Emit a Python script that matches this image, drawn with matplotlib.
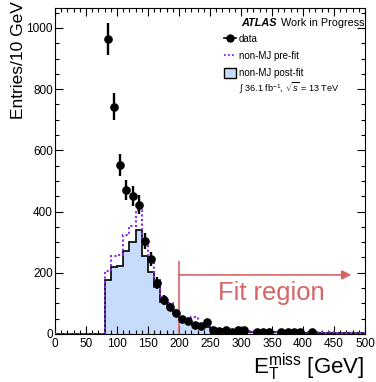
import numpy as np
import matplotlib
matplotlib.use("Agg")
import matplotlib.pyplot as plt
from matplotlib.lines import Line2D
from matplotlib.patches import Patch
from matplotlib.ticker import MultipleLocator

plt.rcParams["font.family"] = ["Liberation Sans", "DejaVu Sans"]
plt.rcParams["mathtext.fontset"] = "custom"
plt.rcParams["mathtext.rm"] = "Liberation Sans"
plt.rcParams["mathtext.it"] = "Liberation Sans:italic"

# ---- data ----
bin_edges = np.arange(0, 510, 10)

# non-MJ post-fit, one value per 10 GeV bin from 0 to 500
post_fit = [0, 0, 0, 0, 0, 0, 0, 0,
            176, 218, 221, 271, 302, 340, 255, 204, 155, 106, 89, 68,
            47, 42, 32, 28, 24, 18, 15, 13, 11, 10,
            9, 8, 7, 7, 6, 6, 5, 5, 5, 4,
            4, 4, 4, 3, 3, 3, 3, 3, 2, 2]

# non-MJ pre-fit
pre_fit = [0, 0, 0, 0, 0, 0, 0, 0,
           206, 255, 258, 323, 354, 405, 292, 247, 176, 122, 100, 73,
           50, 46, 57, 32, 27, 20, 17, 14, 12, 11,
           10, 9, 8, 8, 7, 7, 6, 6, 6, 5,
           5, 5, 5, 4, 5, 4, 4, 4, 3, 3]

data_x = [85, 95, 105, 115, 125, 135, 145, 155, 165, 175, 185, 195,
          205, 215, 225, 235, 245, 255, 265, 275, 285, 295, 305,
          325, 335, 345, 365, 375, 385, 395, 415]
data_y = [964, 743, 552, 470, 450, 423, 305, 245, 166, 111, 88, 69,
          49, 43, 30, 27, 40, 12, 11, 12, 7, 12, 13,
          5, 5, 5, 5, 5, 5, 5, 6]
data_err = [51, 43, 35, 33, 32, 30, 26, 23, 19, 16, 14, 12,
            10, 10, 8, 8, 9, 5, 5, 5, 4, 5, 5,
            3, 3, 3, 3, 3, 3, 3, 3]

fit_start = 200
fill_col = "#c6dcfa"
pre_col = "#8a2be2"
fit_col = "#d66565"

fig = plt.figure(figsize=(3.76, 3.82), dpi=100)
ax = fig.add_axes([55 / 376, 48 / 382, 310 / 376, 326 / 382])

# histograms
ax.stairs(post_fit, bin_edges, fill=True, color=fill_col, zorder=1)
ax.stairs(post_fit, bin_edges, color="black", lw=1.2, zorder=2)
ax.stairs(pre_fit, bin_edges, color=pre_col, lw=1.5, ls=(0, (1, 1.2)), zorder=3)

# fit region marker
ax.vlines(fit_start, 0, 238, color=fit_col, lw=1.2, zorder=4)
ax.annotate("", xy=(478, 193), xytext=(fit_start, 193),
            arrowprops=dict(arrowstyle="-|>", color=fit_col, lw=1.2,
                            mutation_scale=14, shrinkA=0, shrinkB=0),
            zorder=4)
ax.text(263, 111, "Fit region", color=fit_col, fontsize=18.4,
        ha="left", va="baseline", zorder=4)

# data
ax.errorbar(data_x, data_y, yerr=data_err, fmt="o", color="black",
            ms=5.2, elinewidth=1.7, capsize=0, zorder=5)

ax.set_xlim(0, 500)
ax.set_ylim(0, 1065)
ax.xaxis.set_major_locator(MultipleLocator(50))
ax.xaxis.set_minor_locator(MultipleLocator(10))
ax.yaxis.set_major_locator(MultipleLocator(200))
ax.yaxis.set_minor_locator(MultipleLocator(50))
ax.tick_params(which="both", direction="in", top=True, right=True,
               labelsize=8.5, width=0.8)
ax.tick_params(which="major", length=6)
ax.tick_params(which="minor", length=3)
ax.tick_params(axis="x", pad=3)
ax.tick_params(axis="y", pad=1.5)

# axis titles
fig.text(1 - 12 / 376, 8 / 382, r"E$_\mathregular{T}^\mathregular{miss}$ [GeV]",
         fontsize=16, ha="right", va="baseline")
fig.text(19 / 376, 1 - 1 / 382, "Entries/10 GeV", fontsize=12.5, rotation=90,
         ha="center", va="top")

# labels inside the frame
ax.text((241.7 - 55) / 310, (334 - 26) / 326, "ATLAS", fontsize=7.8,
        fontweight="bold", fontstyle="italic", transform=ax.transAxes,
        ha="left", va="baseline")
ax.text((364 - 55) / 310, (334 - 26) / 326, "Work in Progress", fontsize=7.8,
        transform=ax.transAxes, ha="right", va="baseline")
ax.text((239 - 55) / 310, (334 - 92) / 326,
        "\u222b 36.1 fb$^{-1}$, $\\sqrt{s}$ = 13 TeV", fontsize=6.6,
        transform=ax.transAxes, ha="left", va="baseline")

handles = [
    Line2D([], [], color="black", marker="o", ms=5, lw=1.2),
    Line2D([], [], color=pre_col, lw=1.3, ls=(0, (1, 1.2))),
    Patch(facecolor=fill_col, edgecolor="black", lw=1.0),
]
labels = ["data", "non-MJ pre-fit", "non-MJ post-fit"]
ax.legend(handles, labels, loc="upper left",
          bbox_to_anchor=((224 - 55) / 310, (334 - 34) / 326),
          frameon=False, fontsize=7, handlelength=1.2, handleheight=1.2,
          handletextpad=0.3, labelspacing=0.68, borderpad=0, borderaxespad=0)

fig.savefig("out.png", dpi=100)
